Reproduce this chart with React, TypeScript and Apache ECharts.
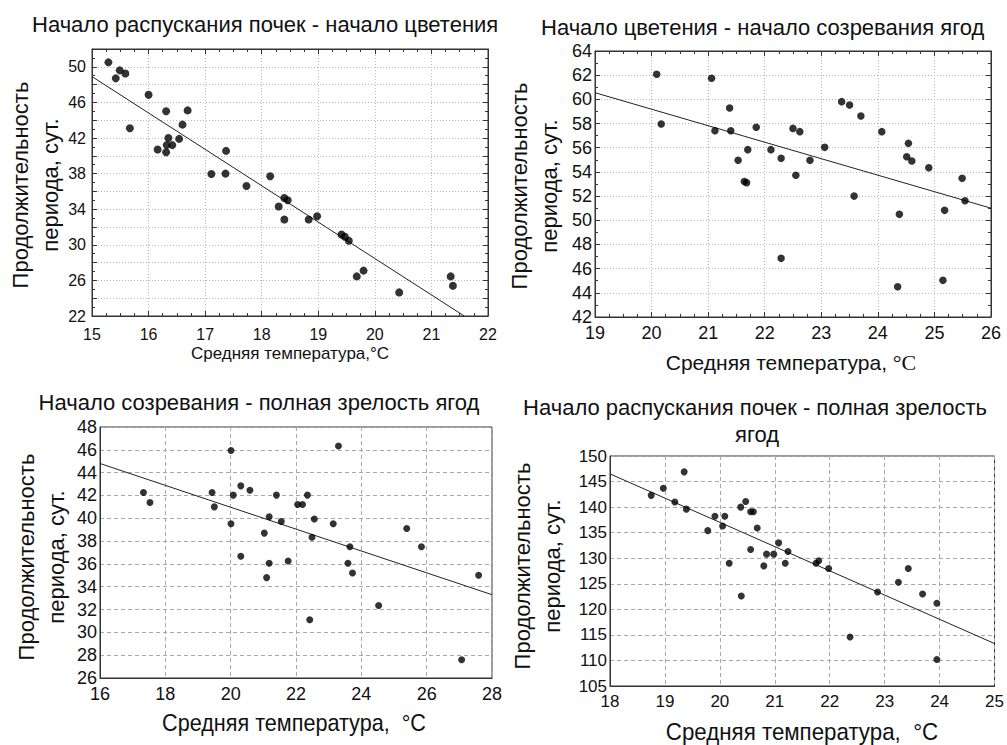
import React, { useEffect, useRef } from "react";
import * as echarts from "echarts";

const FONT = "'Liberation Sans', Arial, sans-serif";
const SERIF = "'Liberation Serif', 'Times New Roman', serif";

// ---- Panel 1: Начало распускания почек - начало цветения
const p1x = [15.29, 15.42, 15.49, 15.59, 15.67, 16.0, 16.16, 16.31, 16.35, 16.32, 16.42, 16.31, 16.54, 16.6, 16.69, 17.11, 17.36, 17.37, 17.73, 18.15, 18.3, 18.4, 18.46, 18.4, 18.83, 18.98, 19.41, 19.47, 19.54, 19.68, 19.8, 20.43, 21.34, 21.38];
const p1y = [50.5, 48.7, 49.6, 49.25, 43.1, 46.85, 40.7, 45.0, 42.0, 41.2, 41.2, 40.4, 41.9, 43.5, 45.1, 37.95, 38.0, 40.55, 36.6, 37.7, 34.3, 35.25, 35.0, 32.85, 32.85, 33.2, 31.15, 30.9, 30.45, 26.45, 27.1, 24.65, 26.45, 25.4];
const fit1 = [[15, 48.9], [21.58, 22]];

// ---- Panel 2: Начало цветения - начало созревания ягод
const p2x = [20.09, 20.17, 21.06, 21.12, 21.38, 21.4, 21.53, 21.64, 21.68, 21.7, 21.85, 22.11, 22.29, 22.29, 22.5, 22.55, 22.62, 22.8, 23.06, 23.36, 23.5, 23.7, 23.58, 24.07, 24.38, 24.35, 24.54, 24.51, 24.6, 24.9, 25.18, 25.15, 25.49, 25.54];
const p2y = [62.07, 57.96, 61.74, 57.41, 59.29, 57.41, 54.96, 53.2, 53.1, 55.84, 57.69, 55.84, 55.12, 46.85, 57.6, 53.72, 57.33, 54.96, 56.03, 59.81, 59.53, 58.62, 52.0, 57.33, 50.49, 44.5, 56.36, 55.26, 54.9, 54.35, 50.82, 45.03, 53.47, 51.62];
const fit2 = [[19, 60.55], [26, 51.0]];

// ---- Panel 3: Начало созревания - полная зрелость ягод
const p3x = [17.33, 17.53, 19.43, 19.5, 20.01, 20.01, 20.08, 20.31, 20.31, 20.59, 21.03, 21.1, 21.18, 21.18, 21.4, 21.55, 21.76, 22.05, 22.2, 22.35, 22.56, 22.49, 22.42, 23.14, 23.3, 23.65, 23.59, 23.73, 24.53, 25.39, 25.84, 27.07, 27.59];
const p3y = [42.26, 41.39, 42.26, 41.0, 45.94, 39.52, 42.03, 42.84, 36.67, 42.46, 38.7, 34.8, 40.13, 36.05, 42.03, 39.72, 36.25, 41.21, 41.21, 42.03, 39.93, 38.33, 31.1, 39.52, 46.34, 37.5, 36.05, 35.2, 32.35, 39.11, 37.5, 27.6, 35.0];
const fit3 = [[16, 44.8], [28, 33.3]];

// ---- Panel 4: Начало распускания почек - полная зрелость ягод
const p4x = [18.75, 18.97, 19.18, 19.35, 19.39, 19.78, 19.91, 20.05, 20.09, 20.17, 20.38, 20.39, 20.47, 20.56, 20.56, 20.61, 20.68, 20.8, 20.85, 20.98, 21.07, 21.19, 21.24, 21.75, 21.8, 21.98, 22.37, 22.87, 23.25, 23.43, 23.69, 23.95, 23.95];
const p4y = [142.3, 143.7, 141.0, 146.9, 139.6, 135.4, 138.2, 136.3, 138.2, 129.0, 140.0, 122.6, 141.1, 131.7, 139.1, 139.1, 135.9, 128.5, 130.8, 130.8, 133.0, 129.0, 131.3, 129.0, 129.5, 128.0, 114.6, 123.4, 125.3, 128.0, 123.0, 121.2, 110.2];
const fit4 = [[18, 146.5], [25, 113.3]];

const titles = [
  "Начало распускания почек - начало цветения",
  "Начало цветения - начало созревания ягод",
  "Начало созревания - полная зрелость ягод",
  "Начало распускания почек - полная зрелость",
  "ягод",
];
const yTitle = "Продолжительность\nпериода, сут.";
const xTitleA = "Средняя температура,°C";
const xTitleB = "Средняя температура, ";
const xTitleC = "Средняя температура,  °C";

const zip = (xs: number[], ys: number[]) => xs.map((x, i) => [x, ys[i]]);

const panels = [
  { grid: { left: 92, top: 49, width: 396, height: 267 }, x: [15, 22, 1], y: [22, 52, 2], yLabelStep: 4, fs: 16, ticks: true, dash: "dotted", xm: 10, ym: 6, pts: zip(p1x, p1y), fit: fit1, sym: 8 },
  { grid: { left: 595, top: 51, width: 396, height: 266 }, x: [19, 26, 1], y: [42, 64, 2], yLabelStep: 2, fs: 18, ticks: true, dash: "dotted", xm: 7, ym: 3, pts: zip(p2x, p2y), fit: fit2, sym: 7.5 },
  { grid: { left: 100, top: 427, width: 392, height: 251 }, x: [16, 28, 2], y: [26, 48, 2], yLabelStep: 2, fs: 18, ticks: false, dash: "dashed", xm: 7, ym: 3, pts: zip(p3x, p3y), fit: fit3, sym: 7 },
  { grid: { left: 610, top: 456, width: 386, height: 230 }, x: [18, 25, 1], y: [105, 150, 5], yLabelStep: 5, fs: 17, ticks: false, dash: "dashed", xm: 7, ym: 3, pts: zip(p4x, p4y), fit: fit4, sym: 7 },
];

function buildOption() {
  const grid: any[] = [];
  const xAxis: any[] = [];
  const yAxis: any[] = [];
  const series: any[] = [];
  panels.forEach((p, i) => {
    grid.push({ ...p.grid, show: true, borderColor: "#333", borderWidth: 1, backgroundColor: "#fff" });
    const split = {
      show: true,
      lineStyle: { color: p.dash === "dotted" ? "#b8b8b8" : "#aaa", type: p.dash === "dotted" ? [1, 2] : [4, 3], width: 1 },
    };
    xAxis.push({
      type: "value", gridIndex: i, min: p.x[0], max: p.x[1], interval: p.x[2],
      axisLine: { show: true, onZero: false, lineStyle: { color: "#333" } },
      axisTick: { show: p.ticks, inside: true, length: 5, lineStyle: { color: "#333" } },
      minorTick: { show: p.ticks, splitNumber: 4, length: 3, lineStyle: { color: "#333" } },
      axisLabel: { fontSize: p.fs, color: "#111", fontFamily: FONT, margin: p.xm },
      splitLine: split,
    });
    const step = p.yLabelStep;
    const y0 = p.y[0];
    yAxis.push({
      type: "value", gridIndex: i, min: p.y[0], max: p.y[1], interval: p.y[2],
      axisLine: { show: true, onZero: false, lineStyle: { color: "#333" } },
      axisTick: { show: p.ticks, inside: true, length: 5, lineStyle: { color: "#333" } },
      minorTick: { show: p.ticks, splitNumber: 2, length: 3, lineStyle: { color: "#333" } },
      axisLabel: {
        fontSize: p.fs, color: "#111", fontFamily: FONT, margin: p.ym,
        formatter: (v: number) => (Math.round(v - y0) % step === 0 ? String(v) : ""),
      },
      splitLine: split,
    });
  });
  // mirror axes (ticks on top and right) for panels 1 and 2
  panels.forEach((p, i) => {
    if (!p.ticks) return;
    xAxis.push({
      type: "value", gridIndex: i, position: "top", min: p.x[0], max: p.x[1], interval: p.x[2],
      axisLine: { show: true, onZero: false, lineStyle: { color: "#333" } },
      axisTick: { show: true, inside: true, length: 5, lineStyle: { color: "#333" } },
      minorTick: { show: true, splitNumber: 4, length: 3, lineStyle: { color: "#333" } },
      axisLabel: { show: false }, splitLine: { show: false },
    });
    yAxis.push({
      type: "value", gridIndex: i, position: "right", min: p.y[0], max: p.y[1], interval: p.y[2],
      axisLine: { show: true, onZero: false, lineStyle: { color: "#333" } },
      axisTick: { show: true, inside: true, length: 5, lineStyle: { color: "#333" } },
      minorTick: { show: true, splitNumber: 2, length: 3, lineStyle: { color: "#333" } },
      axisLabel: { show: false }, splitLine: { show: false },
    });
  });
  panels.forEach((p, i) => {
    series.push({
      type: "line", xAxisIndex: i, yAxisIndex: i, data: p.fit, symbol: "none",
      lineStyle: { color: "#222", width: 1 }, z: 2, silent: true,
    });
    series.push({
      type: "scatter", xAxisIndex: i, yAxisIndex: i, data: p.pts, symbol: "circle",
      symbolSize: p.sym, itemStyle: { color: "#000" }, z: 3, silent: true,
    });
  });

  const tStyle = (text: string, size: number, align: string) => ({
    text, font: `${size}px ${FONT}`, fill: "#111", textAlign: align, textVerticalAlign: "middle",
  });
  const yT = (x: number, y: number) => ({
    type: "text", x, y, rotation: Math.PI / 2,
    style: { text: yTitle, font: `22px ${FONT}`, fill: "#111", textAlign: "center", textVerticalAlign: "middle", lineHeight: 30 },
  });

  const graphic: any[] = [
    { type: "text", x: 32, y: 24, style: tStyle(titles[0], 22, "left") },
    { type: "text", x: 541, y: 27, style: tStyle(titles[1], 22, "left") },
    { type: "text", x: 259, y: 402, style: tStyle(titles[2], 22, "center") },
    { type: "text", x: 755, y: 407, style: tStyle(titles[3], 22, "center") },
    { type: "text", x: 757, y: 434, style: tStyle(titles[4], 22, "center") },
    yT(35, 185),
    yT(534, 186),
    yT(41, 557),
    yT(537, 566),
    { type: "text", x: 290, y: 353, style: tStyle(xTitleA, 17, "center") },
    {
      type: "text", x: 791, y: 362,
      style: {
        text: `{a|${xTitleB}}{b|°C}`, textAlign: "center", textVerticalAlign: "middle",
        rich: {
          a: { font: `21px ${FONT}`, fill: "#111" },
          b: { font: `22px ${SERIF}`, fill: "#111" },
        },
      },
    },
    { type: "text", x: 294, y: 723, scaleX: 0.9, style: tStyle(xTitleC, 24, "center") },
    { type: "text", x: 802, y: 732, scaleX: 0.93, style: tStyle(xTitleC, 24, "center") },
  ];

  return { animation: false, backgroundColor: "#fff", grid, xAxis, yAxis, series, graphic };
}

export default function App() {
  const ref = useRef<HTMLDivElement>(null);
  useEffect(() => {
    const chart = echarts.init(ref.current!, null, { renderer: "svg" });
    chart.setOption(buildOption() as any);
    return () => chart.dispose();
  }, []);
  return (
    <div
      ref={ref}
      style={{ position: "absolute", left: 0, top: 0, width: 1007, height: 745, background: "#fff" }}
    />
  );
}
